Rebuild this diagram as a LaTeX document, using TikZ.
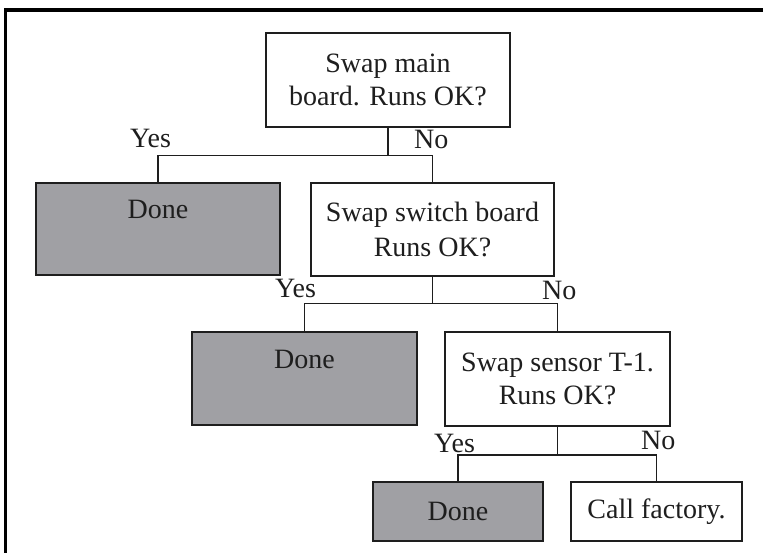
\documentclass[tikz,border=0pt]{standalone}
\usepackage{fontspec}
\setmainfont{Liberation Serif}
\definecolor{donegray}{RGB}{160,160,164}
\definecolor{ink}{RGB}{30,30,30}
\begin{document}
\begin{tikzpicture}[x=1pt,y=-1pt,
  every node/.style={font=\fontsize{28}{33}\selectfont, text=ink},
  qbox/.style={draw=ink, line width=1.6pt, fill=white, align=center, inner sep=0pt},
  donebox/.style={draw=ink, line width=1.6pt, fill=donegray, inner sep=0pt},
  conn/.style={draw=ink, line width=1.4pt},
  lbl/.style={anchor=base west, inner sep=0pt}]
\useasboundingbox (0,0) rectangle (763,553);
% frame
\draw[line width=3.3pt, black] (5.7,560) -- (5.7,10) -- (770,10);
% nodes
\node[qbox, minimum width=244pt, minimum height=94pt] (q1) at (388,80) {Swap main\\board. Runs OK?};
\node[donebox, minimum width=244pt, text height=36pt, text depth=56pt, anchor=base] (d1) at (158,219) {Done};
\node[qbox, minimum width=243pt, minimum height=93pt, font=\fontsize{28}{35}\selectfont] (q2) at (432.5,229.5) {Swap switch board\\Runs OK?};
\node[donebox, minimum width=225pt, text height=36pt, text depth=57pt, anchor=base] (d2) at (304.5,368) {Done};
\node[qbox, minimum width=225pt, minimum height=94pt] (q3) at (557.5,379) {Swap sensor T-1.\\Runs OK?};
\node[donebox, minimum width=170pt, minimum height=59pt] (d3) at (458,511.5) {Done};
\node[qbox, minimum width=171pt, minimum height=59pt] (cf) at (656.5,511.5) {Call factory.};
% connectors
\draw[conn] (q1.south) -- ++(0,28) coordinate (j1);
\draw[conn] (j1) -| (d1.north);
\draw[conn] (j1) -| (q2.north);
\draw[conn] (q2.south) -- ++(0,27) coordinate (j2);
\draw[conn] (j2) -| (d2.north);
\draw[conn] (j2) -| (q3.north);
\draw[conn] (q3.south) -- ++(0,28) coordinate (j3);
\draw[conn] (j3) -| (d3.north);
\draw[conn] (j3) -| (cf.north);
% labels
\node[lbl] (y1) at (130,148) {Yes};
\node[lbl] (n1) at (414,149) {No};
\node[lbl] (y2) at (275,298) {Yes};
\node[lbl] (n2) at (542,300) {No};
\node[lbl] (y3) at (434,452) {Yes};
\node[lbl] (n3) at (641,449) {No};
\end{tikzpicture}
\end{document}
